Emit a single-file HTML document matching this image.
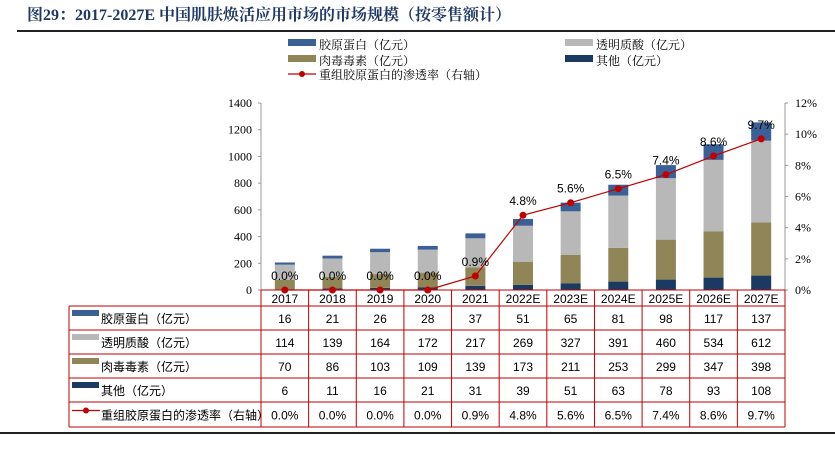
<!DOCTYPE html>
<html><head><meta charset="utf-8"><style>
body{margin:0;background:#fff;width:835px;height:452px;overflow:hidden}
svg{display:block;font-family:"Liberation Sans","Noto Sans CJK SC",sans-serif}
</style></head><body>
<svg id="c" width="835" height="452">
<text x="27" y="20" font-family="Liberation Serif,'Noto Serif CJK SC',serif" font-weight="bold" font-size="16" fill="#1f3864">图29：2017-2027E 中国肌肤焕活应用市场的市场规模（按零售额计）</text>
<line x1="17" y1="31" x2="835" y2="31" stroke="#222" stroke-width="2"/>
<line x1="0" y1="433" x2="835" y2="433" stroke="#222" stroke-width="2"/>
<g id="g"></g>
</svg>
<script>
const years=['2017','2018','2019','2020','2021','2022E','2023E','2024E','2025E','2026E','2027E'];
const collagen=[16,21,26,28,37,51,65,81,98,117,137];
const hyaluronic=[114,139,164,172,217,269,327,391,460,534,612];
const toxin=[70,86,103,109,139,173,211,253,299,347,398];
const other=[6,11,16,21,31,39,51,63,78,93,108];
const rate=[0,0,0,0,0.9,4.8,5.6,6.5,7.4,8.6,9.7];
const leftTicks=[0,200,400,600,800,1000,1200,1400];
const rightTicks=[0,2,4,6,8,10,12];
const NS='http://www.w3.org/2000/svg',g=document.getElementById('g');
function el(t,a,txt){const e=document.createElementNS(NS,t);for(const k in a)e.setAttribute(k,a[k]);if(txt!=null)e.textContent=txt;g.appendChild(e);return e;}
const X0=261,X1=785,Y0=290,Y1=103,cw=(X1-X0)/years.length;
const y=v=>Y0-(v/1400)*(Y0-Y1), yr=v=>Y0-(v/12)*(Y0-Y1), cx=i=>X0+cw*(i+0.5);
const C={col:'#3a6095',hya:'#b8b8b8',tox:'#8f8557',oth:'#1b3a63',red:'#c00000'};
let e=el('line',{x1:X0,y1:Y1,x2:X0,y2:Y0,stroke:'#999'});
e=el('line',{x1:X1,y1:Y1,x2:X1,y2:Y0,stroke:'#999'});
leftTicks.forEach(v=>{el('line',{x1:X0-3,x2:X0,y1:y(v),y2:y(v),stroke:'#999'});
 e=el('text',{x:X0-9,y:y(v)+4,'text-anchor':'end','font-size':12,'font-family':'Liberation Serif,serif'},v);});
rightTicks.forEach(v=>{el('line',{x1:X1,x2:X1+3,y1:yr(v),y2:yr(v),stroke:'#999'});
 e=el('text',{x:X1+10,y:yr(v)+4,'font-size':12,'font-family':'Liberation Serif,serif'},v+'%');});
const bw=20;
years.forEach((yy,i)=>{let base=0;
 [[other,C.oth,'other'],[toxin,C.tox,'toxin'],[hyaluronic,C.hya,'hyaluronic'],[collagen,C.col,'collagen']].forEach(([arr,col,n])=>{
  const v=arr[i];e=el('rect',{x:cx(i)-bw/2,y:y(base+v),width:bw,height:y(base)-y(base+v),fill:col});
  base+=v;});});
e=el('polyline',{points:rate.map((v,i)=>cx(i)+','+yr(v)).join(' '),fill:'none',stroke:C.red,'stroke-width':1.2});

rate.forEach((v,i)=>{e=el('circle',{cx:cx(i),cy:yr(v),r:3.5,fill:C.red});
 e=el('text',{x:cx(i),y:yr(v)-10,'text-anchor':'middle','font-size':12},v.toFixed(1)+'%');});
const TL=69,rows=[290,306,330,354,378,402,427];
const rowsData=[[collagen,'胶原蛋白（亿元）',C.col],[hyaluronic,'透明质酸（亿元）',C.hya],[toxin,'肉毒毒素（亿元）',C.tox],[other,'其他（亿元）',C.oth],[rate,'重组胶原蛋白的渗透率（右轴）',null]];
const st={stroke:C.red,'stroke-width':1};
el('line',Object.assign({x1:X0,x2:X1,y1:rows[0],y2:rows[0]},st));
for(let r=1;r<rows.length;r++)el('line',Object.assign({x1:TL,x2:X1,y1:rows[r],y2:rows[r]},st));
el('line',Object.assign({x1:TL,x2:TL,y1:rows[1],y2:rows[6]},st));
for(let i=0;i<=years.length;i++)el('line',Object.assign({x1:X0+cw*i,x2:X0+cw*i,y1:rows[0],y2:rows[6]},st));
years.forEach((yy,i)=>{e=el('text',{x:cx(i),y:303,'text-anchor':'middle','font-size':12},yy);});
rowsData.forEach(([arr,lab,col],r)=>{const ym=(rows[r+1]+rows[r+2])/2;
 if(col){el('rect',{x:72,y:ym-8,width:27,height:6,fill:col});}
 else{el('line',{x1:72,x2:100,y1:ym-4,y2:ym-4,stroke:C.red,'stroke-width':1.2});el('circle',{cx:86,cy:ym-4,r:3,fill:C.red});}
 e=el('text',{x:101,y:ym+5,'font-size':12},lab);
 arr.forEach((v,i)=>{e=el('text',{x:cx(i),y:ym+5,'text-anchor':'middle','font-size':12},col?v:v.toFixed(1)+'%');});});
const leg=[[288,45,C.col,'胶原蛋白（亿元）'],[565,45,C.hya,'透明质酸（亿元）'],[288,61,C.tox,'肉毒毒素（亿元）'],[565,61,C.oth,'其他（亿元）']];
leg.forEach(([lx,ly,col,t])=>{el('rect',{x:lx,y:ly-6,width:28,height:7,fill:col});
 e=el('text',{x:lx+31,y:ly+4,'font-size':12,'font-family':'Liberation Serif,"Noto Serif CJK SC",serif'},t);});
el('line',{x1:288,x2:316,y1:74,y2:74,stroke:C.red,'stroke-width':1.2});el('circle',{cx:302,cy:74,r:3,fill:C.red});
e=el('text',{x:319,y:79,'font-size':12,'font-family':'Liberation Serif,"Noto Serif CJK SC",serif'},'重组胶原蛋白的渗透率（右轴）');
</script>
</body></html>
